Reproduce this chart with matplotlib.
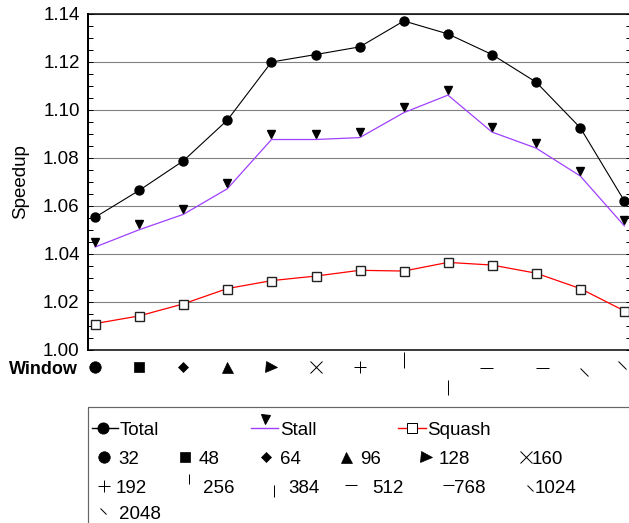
import numpy as np
import matplotlib
matplotlib.use('Agg')
import matplotlib.pyplot as plt
from matplotlib.path import Path
from matplotlib.patches import Rectangle
from matplotlib.ticker import MultipleLocator, FormatStrFormatter
from matplotlib.transforms import offset_copy, blended_transform_factory

plt.rcParams['font.family'] = ['Liberation Sans', 'DejaVu Sans']

# data
windows = ['32', '48', '64', '96', '128', '160', '192', '256', '384', '512', '768', '1024', '2048']
total = [1.0553, 1.0665, 1.0788, 1.0958, 1.1200, 1.1231, 1.1263, 1.1371, 1.1317, 1.1231, 1.1116, 1.0926, 1.0621]
stall = [1.0429, 1.0501, 1.0565, 1.0672, 1.0877, 1.0877, 1.0885, 1.0989, 1.1062, 1.0908, 1.0841, 1.0725, 1.0517]
squash = [1.0110, 1.0142, 1.0192, 1.0256, 1.0289, 1.0308, 1.0332, 1.0329, 1.0365, 1.0354, 1.0320, 1.0256, 1.0163]
series = ['Total', 'Stall', 'Squash']

W, H = 629, 523
PX = 0.72          # points per pixel at 100 dpi
FS = 13.5
PURPLE = '#a040ff'

backslash = Path([(-0.5, 0.5), (0.5, -0.5)], [Path.MOVETO, Path.LINETO])

# glyph for each window: marker, size(px), filled
glyphs = [('o', 11.5, True), ('s', 10.5, True), ('D', 7.2, True), ('^', 11, True),
          ('>', 11, True), ('x', 12, False), ('+', 12, False), ('|', 16, False),
          ('|', 15, False), ('_', 13, False), ('_', 13, False), (backslash, 8, False),
          (backslash, 8, False)]
# offsets (dx, dy up) in px for the row under the axis
row_off = [(0, 0), (0, 0), (0, 0), (0, 0), (0, 0), (0, 0), (0, 0), (0, 7), (0, -19.5),
           (-6, -1), (6, -1), (4, -5), (-2, 2)]

fig = plt.figure(figsize=(W / 100, H / 100), dpi=100)
ax = fig.add_axes([88 / W, 1 - 350 / H, (631 - 88) / W, 336 / H])
x = np.arange(len(windows))

ax.plot(x, total, color='black', lw=0.8, marker='o', ms=9 * PX, mfc='black', mec='black', zorder=4)
ax.plot(x, stall, color=PURPLE, lw=0.9, zorder=3)
ax.plot(x, stall, ls='none', marker='v', ms=8.5 * PX, color='black', zorder=4,
        transform=offset_copy(ax.transData, fig=fig, y=5.5, units='dots'))
ax.plot(x, squash, color='red', lw=0.9, marker='s', ms=9 * PX, mfc='white', mec='#222222',
        mew=1.0, zorder=4)

ax.set_xlim(-0.16, 12.15)
ax.set_ylim(1.0, 1.14)
ax.yaxis.set_major_locator(MultipleLocator(0.02))
ax.yaxis.set_minor_locator(MultipleLocator(0.005))
ax.yaxis.set_major_formatter(FormatStrFormatter('%.2f'))
ax.tick_params(axis='y', which='both', direction='in', left=True, right=True,
               length=5 * PX, width=1 * PX, labelsize=FS, pad=6)
ax.tick_params(axis='x', which='both', bottom=False, labelbottom=False)
ax.grid(axis='y', which='major', color='#808080', lw=1.1 * PX)
ax.set_axisbelow(True)
ax.spines['left'].set_linewidth(2 * PX)
ax.spines['top'].set_linewidth(1.5 * PX)
ax.spines['bottom'].set_linewidth(1.5 * PX)
ax.spines['right'].set_linewidth(1 * PX)

# window glyphs under the x axis
base = blended_transform_factory(ax.transData, ax.transAxes)
for i, (g, (m, s, filled)) in enumerate(zip(windows, glyphs)):
    dx, dy = row_off[i]
    tr = offset_copy(base, fig=fig, x=dx, y=-17 + dy, units='dots')
    ax.plot([x[i]], [0], ls='none', marker=m, ms=s * PX, color='black',
            mew=(1 * PX if not filled else 0.5), transform=tr, clip_on=False)

# overlay in pixel coordinates for labels and the legend box
ov = fig.add_axes([0, 0, 1, 1], zorder=-1)
ov.set_xlim(0, W)
ov.set_ylim(H, 0)
ov.axis('off')

ov.text(21, 182, 'Speedup', rotation=90, ha='center', va='center', fontsize=FS)
ov.text(78, 367 + 6.7, 'Window', ha='right', va='baseline', fontsize=13, weight='bold')

ov.add_patch(Rectangle((88, 407), 600, 200, fill=False, ec='#666666', lw=1.2 * PX))

# legend row 1: series
r1 = 428
ser_pos = [(92, 118, 103, 120), (251, 278, 264.5, 280), (398, 426, 412, 427)]
ser_col = ['black', PURPLE, 'red']
ser_mk = [('o', 11, 'black', 0), ('v', 9, 'black', 9.5), ('s', 10, 'white', 0)]
for name, (x0, x1, xm, xt), c, (m, s, fc, up) in zip(series, ser_pos, ser_col, ser_mk):
    ov.plot([x0, x1], [r1, r1], color=c, lw=1.4 * PX)
    ov.plot([xm], [r1 - up], ls='none', marker=m, ms=s * PX, mfc=fc, mec='black', mew=1 * PX)
    ov.text(xt, r1 + 6.7, name, ha='left', va='baseline', fontsize=FS)

# legend rows 2-4: windows
key_pos = [(103.5, 457, 118.5), (185, 457, 199), (265.6, 457, 279.6), (346, 457, 360),
           (425.6, 457, 439), (526, 457, 532), (103.5, 486, 116), (189, 486, 202.5),
           (273.6, 486, 288), (351, 486, 372), (447.5, 486, 454), (530, 486, 535),
           (103, 512, 118.5)]
key_glyph = [None] * 7 + [('|', 10, 7), ('|', 12, -5), ('_', 12, 1), ('_', 11, 1),
                          (backslash, 6, -1.5), (backslash, 6, 1.5)]
for i, (g, (xm, yr, xt)) in enumerate(zip(windows, key_pos)):
    m, s, filled = glyphs[i]
    up = 0
    if key_glyph[i] is not None:
        m, s, up = key_glyph[i]
    ov.plot([xm], [yr - up], ls='none', marker=m, ms=s * PX, color='black',
            mew=(1 * PX if not filled else 0.5))
    ov.text(xt, yr + 6.7, g, ha='left', va='baseline', fontsize=FS)

fig.savefig('out.png', dpi=100)
